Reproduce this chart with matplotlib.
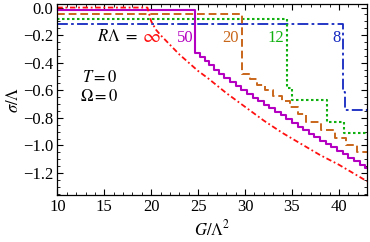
import numpy as np
import matplotlib
matplotlib.use("Agg")
import matplotlib.pyplot as plt
from matplotlib.ticker import MultipleLocator

plt.rcParams['font.family'] = ['Liberation Serif', 'DejaVu Serif']
plt.rcParams['mathtext.fontset'] = 'stix'

# R*Lambda = infinity (smooth curve)
g_inf = [10, 19.6, 20.0, 20.5, 21, 22, 23, 24, 25, 26, 28, 30, 32, 34, 36, 38, 40, 43]
s_inf = [0, 0, -0.10, -0.16, -0.20, -0.27, -0.34, -0.40, -0.46, -0.51, -0.62, -0.72,
         -0.82, -0.91, -0.99, -1.07, -1.14, -1.26]

# R*Lambda = 50 (staircase, value holds from g to next g)
g_50 = [10, 24.7, 25.2, 25.7, 26.2, 26.7, 27.2, 27.8, 28.4, 29.0, 29.6, 30.2, 30.8, 31.4,
        32.0, 32.6, 33.2, 33.8, 34.4, 35.0, 35.6, 36.2, 36.8, 37.4, 38.0, 38.6, 39.2,
        39.8, 40.4, 41.0, 41.6, 42.2, 42.8, 43]
s_50 = [-0.015, -0.33, -0.36, -0.39, -0.42, -0.45, -0.48, -0.51, -0.54, -0.57, -0.60,
        -0.63, -0.655, -0.68, -0.705, -0.73, -0.755, -0.78, -0.81, -0.84, -0.865, -0.89,
        -0.915, -0.94, -0.965, -0.99, -1.015, -1.04, -1.065, -1.09, -1.115, -1.14, -1.165,
        -1.165]

# R*Lambda = 20
g_20 = [10, 29.7, 30.5, 31.3, 32.1, 33.0, 33.9, 34.8, 35.6, 36.5, 38.1, 39.6, 40.8, 41.9, 43]
s_20 = [-0.045, -0.48, -0.52, -0.56, -0.60, -0.64, -0.68, -0.72, -0.77, -0.83, -0.89,
        -0.945, -1.00, -1.05, -1.05]

# R*Lambda = 12
g_12 = [10, 34.5, 35.0, 38.7, 40.5, 43]
s_12 = [-0.08, -0.58, -0.67, -0.83, -0.91, -0.91]

# R*Lambda = 8
g_8 = [10, 40.4, 40.7, 43]
s_8 = [-0.12, -0.61, -0.74, -0.74]

fig = plt.figure(figsize=(3.7, 2.42), dpi=100)
ax = fig.add_axes([0.155, 0.194, 0.837, 0.789])

ax.plot(g_8, s_8, drawstyle='steps-post', color='#1428c0', lw=1.3, dashes=(6, 1.8, 1.5, 1.8))
ax.plot(g_12, s_12, drawstyle='steps-post', color='#10b010', lw=1.5, dashes=(1.2, 1.2))
ax.plot(g_20, s_20, drawstyle='steps-post', color='#c8661a', lw=1.4, dashes=(4, 2))
ax.plot(g_50, s_50, drawstyle='steps-post', color='#b400c0', lw=1.5)
ax.plot(g_inf, s_inf, color='#ff1010', lw=1.3, dashes=(3, 1.5, 1, 1.5))

ax.set_xlim(10, 43)
ax.set_ylim(-1.36, 0.025)
ax.xaxis.set_major_locator(MultipleLocator(5))
ax.xaxis.set_minor_locator(MultipleLocator(1))
ax.yaxis.set_minor_locator(MultipleLocator(0.05))
ax.set_yticks(np.arange(-1.2, 0.01, 0.2))
ax.set_yticklabels(['\u22121.2', '\u22121.0', '\u22120.8', '\u22120.6', '\u22120.4', '\u22120.2', '0.0'])
ax.tick_params(which='both', direction='in', top=True, right=True, labelsize=12, pad=3)
ax.tick_params(which='major', length=4, width=0.8)
ax.tick_params(which='minor', length=2, width=0.6)
for sp in ax.spines.values():
    sp.set_linewidth(0.9)

ax.set_xlabel(r'$G/\Lambda^2$', fontsize=12, labelpad=3)
ax.set_ylabel(r'$\sigma/\Lambda$', fontsize=12, labelpad=1)

ax.text(14.2, -0.215, r'$R\Lambda\ =$', fontsize=12, ha='left', va='center')
ax.text(20.0, -0.215, r'$\infty$', fontsize=14, color='#ff1010', ha='center', va='center')
ax.text(23.6, -0.22, '50', fontsize=12, color='#b400c0', ha='center', va='center')
ax.text(28.5, -0.22, '20', fontsize=12, color='#c8661a', ha='center', va='center')
ax.text(33.3, -0.22, '12', fontsize=12, color='#10b010', ha='center', va='center')
ax.text(39.8, -0.22, '8', fontsize=12, color='#1428c0', ha='center', va='center')
ax.text(12.6, -0.51, r'$T=0$', fontsize=12, ha='left', va='center')
ax.text(12.4, -0.65, r'$\Omega=0$', fontsize=12, ha='left', va='center')

fig.savefig('out.png', dpi=100)
